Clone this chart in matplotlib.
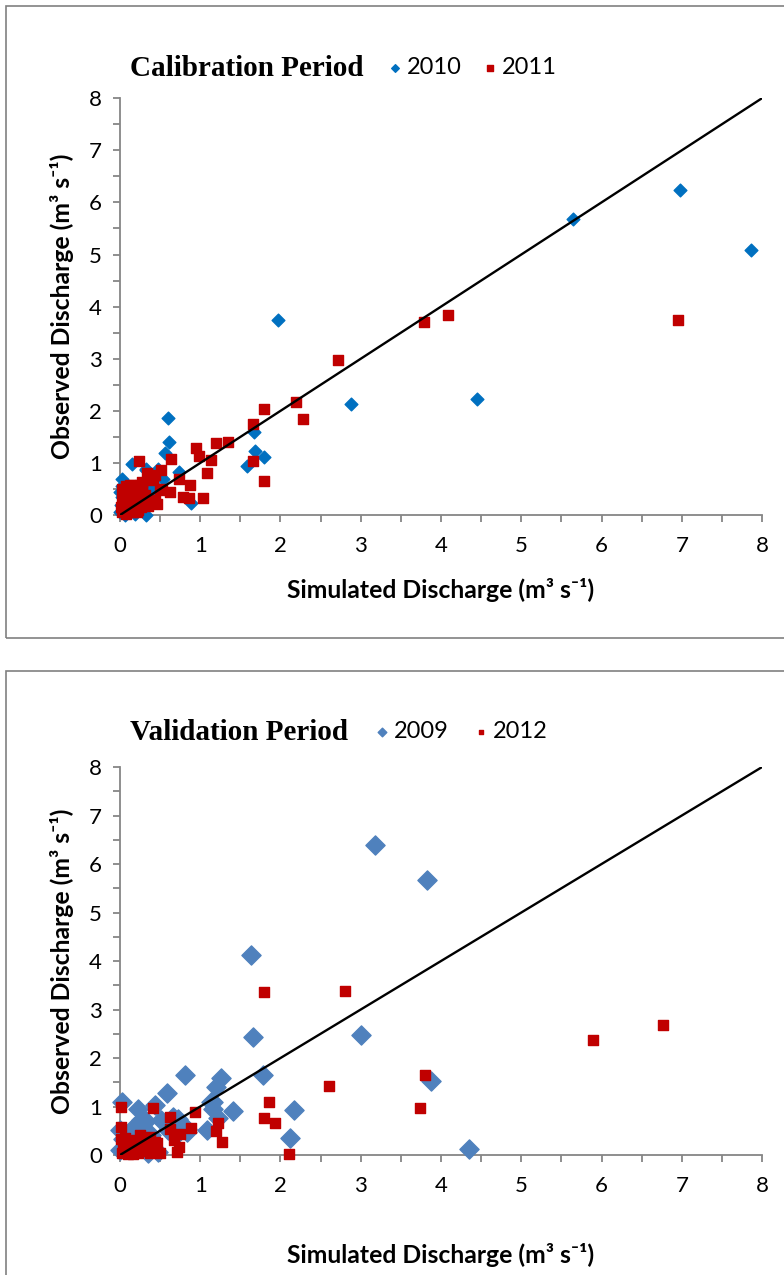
import numpy as np
import matplotlib
matplotlib.use("Agg")
import matplotlib.pyplot as plt
from matplotlib.patches import Rectangle
from matplotlib.ticker import MultipleLocator

plt.rcParams['font.family'] = ['Lato', 'DejaVu Sans']

# -----------------------------
# data: calibration period
# -----------------------------
cal_2010_x = [7.86, 6.98, 5.64, 4.45, 2.88, 1.97, 0.60, 0.61, 0.56, 0.15, 0.32, 0.48,
              0.54, 0.74, 0.88, 0.32, 0.02, 0.37, 1.67, 1.68, 1.79, 1.58, 0.36, 0.47,
              0.33, 0.00, 0.01, 0.02, 0.00, 0.03, 0.06, 0.10, 0.19, 0.12, 0.25, 0.05,
              0.08, 0.15, 0.42, 0.22]
cal_2010_y = [5.09, 6.24, 5.68, 2.23, 2.13, 3.74, 1.86, 1.40, 1.20, 0.98, 0.88, 0.88,
              0.69, 0.83, 0.24, 0.01, 0.69, 0.48, 1.59, 1.23, 1.11, 0.94, 0.48, 0.50,
              0.86, 0.05, 0.20, 0.35, 0.45, 0.55, 0.00, 0.05, 0.03, 0.15, 0.10, 0.28,
              0.12, 0.30, 0.48, 0.40]

cal_2011_x = [6.95, 4.09, 3.79, 2.72, 2.19, 1.80, 2.28, 1.66, 1.66, 1.79, 1.35, 1.20,
              0.95, 0.98, 1.13, 1.08, 1.04, 0.86, 0.78, 0.87, 0.74, 0.64, 0.24, 0.51,
              0.41, 0.62, 0.52, 0.44, 0.46, 0.35, 0.35, 0.28, 0.34, 0.44, 0.50, 0.17,
              0.27, 0.31, 0.39, 0.23, 0.02, 0.04, 0.06, 0.03, 0.05, 0.02, 0.08, 0.10,
              0.12, 0.09, 0.14, 0.11, 0.16, 0.18, 0.20, 0.22, 0.24, 0.19, 0.26, 0.28,
              0.30, 0.07, 0.15, 0.01, 0.13, 0.21, 0.17, 0.25, 0.32, 0.06]
cal_2011_y = [3.74, 3.84, 3.70, 2.98, 2.17, 2.03, 1.84, 1.75, 1.03, 0.65, 1.41, 1.38,
              1.29, 1.13, 1.06, 0.81, 0.33, 0.33, 0.35, 0.58, 0.69, 1.07, 1.04, 0.86,
              0.67, 0.45, 0.49, 0.29, 0.21, 0.17, 0.77, 0.64, 0.80, 0.77, 0.51, 0.58,
              0.48, 0.38, 0.29, 0.10, 0.05, 0.12, 0.20, 0.30, 0.40, 0.50, 0.55, 0.45,
              0.35, 0.25, 0.18, 0.08, 0.30, 0.42, 0.52, 0.25, 0.38, 0.12, 0.15, 0.48,
              0.32, 0.02, 0.05, 0.15, 0.58, 0.05, 0.55, 0.58, 0.22, 0.35]

# -----------------------------
# data: validation period
# -----------------------------
val_2009_x = [3.18, 3.83, 1.63, 1.66, 3.00, 3.88, 4.35, 1.78, 2.17, 2.12, 0.81, 1.26,
              1.20, 0.59, 0.44, 1.16, 1.16, 1.41, 1.22, 1.08, 0.84, 0.72, 0.51, 0.23,
              0.02, 0.32, 0.26, 0.18, 0.48, 0.00, 0.66, 0.73, 0.83, 0.60, 0.17, 0.04,
              0.00, 0.12, 0.39, 0.27, 1.14, 0.08, 0.20, 0.35]
val_2009_y = [6.39, 5.67, 4.12, 2.43, 2.47, 1.53, 0.12, 1.65, 0.93, 0.35, 1.66, 1.58,
              1.41, 1.28, 1.03, 1.10, 0.94, 0.91, 0.76, 0.52, 0.53, 0.74, 0.72, 0.94,
              1.10, 0.71, 0.72, 0.58, 0.07, 0.52, 0.79, 0.48, 0.48, 0.52, 0.48, 0.34,
              0.10, 0.27, 0.41, 0.58, 1.10, 0.15, 0.30, 0.05]

val_2012_x = [6.77, 5.89, 2.80, 1.79, 3.80, 3.74, 2.60, 2.11, 1.86, 1.79, 1.93, 0.93,
              0.89, 1.22, 1.20, 1.27, 0.62, 0.62, 0.75, 0.74, 0.71, 0.67, 0.41, 0.01,
              0.01, 0.01, 0.37, 0.25, 0.46, 0.44, 0.02, 0.05, 0.08, 0.10, 0.14, 0.18,
              0.20, 0.22, 0.25, 0.28, 0.30, 0.33, 0.35, 0.38, 0.12, 0.04, 0.16, 0.27,
              0.06, 0.40, 0.45, 0.50]
val_2012_y = [2.68, 2.37, 3.38, 3.36, 1.65, 0.97, 1.43, 0.02, 1.09, 0.77, 0.66, 0.88,
              0.56, 0.67, 0.50, 0.27, 0.78, 0.54, 0.43, 0.17, 0.07, 0.31, 0.96, 0.98,
              0.57, 0.33, 0.38, 0.41, 0.24, 0.27, 0.05, 0.12, 0.20, 0.03, 0.10, 0.15,
              0.25, 0.05, 0.18, 0.08, 0.30, 0.12, 0.20, 0.04, 0.30, 0.25, 0.02, 0.28,
              0.35, 0.10, 0.15, 0.05]

axis_color = '#868686'
frame_color = '#808080'

fig = plt.figure(figsize=(7.84, 12.75), dpi=100)

# outer frames (chart areas, cut off on the right)
fig.add_artist(Rectangle((0.0077, 0.4996), 1.2, 0.4957, transform=fig.transFigure,
                         fill=False, edgecolor=frame_color, linewidth=1.2))
fig.add_artist(Rectangle((0.0077, -0.2), 1.2, 0.6737, transform=fig.transFigure,
                         fill=False, edgecolor=frame_color, linewidth=1.2))


def style_axes(ax, xpad):
    ax.set_xlim(0, 8)
    ax.set_ylim(0, 8)
    for s in ['top', 'right']:
        ax.spines[s].set_visible(False)
    for s in ['left', 'bottom']:
        ax.spines[s].set_color(axis_color)
        ax.spines[s].set_linewidth(1.3)
    ax.xaxis.set_major_locator(MultipleLocator(1))
    ax.yaxis.set_major_locator(MultipleLocator(1))
    ax.xaxis.set_minor_locator(MultipleLocator(0.5))
    ax.yaxis.set_minor_locator(MultipleLocator(0.5))
    ax.tick_params(which='both', direction='out', length=5, width=1.3,
                   color=axis_color, labelsize=16, labelcolor='black')
    ax.tick_params(axis='x', pad=10)
    ax.tick_params(axis='y', pad=8)
    ax.set_xlabel('Simulated Discharge (m³ s⁻¹)', fontsize=17.8, fontweight='bold',
                  labelpad=xpad)
    ax.set_ylabel('Observed Discharge (m³ s⁻¹)', fontsize=17.8, fontweight='bold',
                  labelpad=11)
    ax.plot([0, 8], [0, 8], color='black', linewidth=1.7, zorder=4)


# -----------------------------
# calibration panel
# -----------------------------
ax1 = fig.add_axes([0.153, 0.596, 0.819, 0.327])
style_axes(ax1, 16)
ax1.scatter(cal_2010_x, cal_2010_y, marker='D', s=42, color='#0070C0',
            zorder=3, clip_on=False, label='2010')
ax1.scatter(cal_2011_x, cal_2011_y, marker='s', s=42, color='#C00000',
            zorder=3, clip_on=False, label='2011')
ax1.text(0.0156, 1.072, 'Calibration Period', transform=ax1.transAxes,
         family='Liberation Serif', fontweight='bold', fontsize=21, va='center')
ax1.legend(loc='center left', bbox_to_anchor=(0.392, 1.074), ncol=2, frameon=False,
           fontsize=17, markerscale=0.6, handletextpad=0.0, columnspacing=0.7,
           handlelength=1.0, borderpad=0)

# -----------------------------
# validation panel
# -----------------------------
ax2 = fig.add_axes([0.153, 0.0941, 0.819, 0.3043])
style_axes(ax2, 34)
ax2.scatter(val_2009_x, val_2009_y, marker='D', s=95, color='#4F81BD',
            zorder=3, clip_on=False, label='2009')
ax2.scatter(val_2012_x, val_2012_y, marker='s', s=45, color='#C00000',
            zorder=3, clip_on=False, label='2012')
ax2.text(0.0156, 1.09, 'Validation Period', transform=ax2.transAxes,
         family='Liberation Serif', fontweight='bold', fontsize=21, va='center')
ax2.legend(loc='center left', bbox_to_anchor=(0.372, 1.092), ncol=2, frameon=False,
           fontsize=17, markerscale=0.45, handletextpad=0.0, columnspacing=0.85,
           handlelength=1.0, borderpad=0)

fig.savefig('out.png', dpi=100)
